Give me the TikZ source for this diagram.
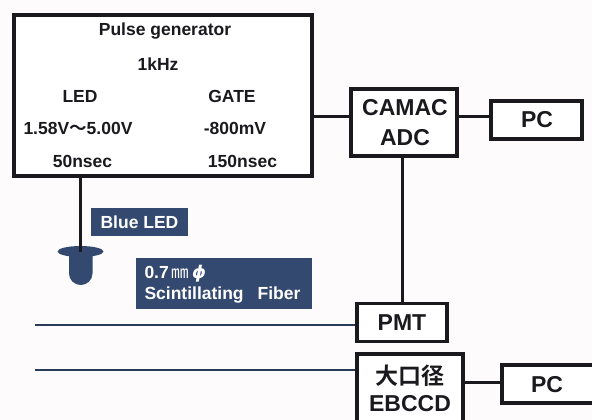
\documentclass[tikz,border=0pt]{standalone}
\usepackage{fontspec}
\setmainfont{Liberation Sans}
\newfontfamily\cjk{Noto Sans CJK JP}[BoldFont={* Bold}]
\newfontfamily\gk{DejaVu Sans}
\definecolor{navy}{HTML}{34496F}
\definecolor{paper}{HTML}{FEFBFD}
\definecolor{ink}{HTML}{1A1A1E}
\tikzset{
  box/.style={draw=ink,line width=3.2pt,fill=white,inner sep=0pt},
  big/.style={font=\fontsize{23}{30}\selectfont\bfseries,text=ink,inner sep=0pt,align=center},
  small/.style={font=\fontsize{17.5}{20}\selectfont\bfseries,text=ink,inner sep=0pt},
  tag/.style={fill=navy,text=white,inner sep=0pt,font=\fontsize{17.5}{21}\selectfont\bfseries},
  wire/.style={draw=ink,line width=3pt},
  fib/.style={draw=navy!80!black,line width=1.8pt}
}
\begin{document}
\begin{tikzpicture}[x=1pt,y=-1pt]
\useasboundingbox (0,0) rectangle (592,420);
\fill[paper] (0,0) rectangle (592,420);
\node[box,minimum width=298pt,minimum height=161pt] (gen) at (163,95.5) {};
\node[small] (t1) at (165,31) {Pulse generator};
\node[small] (t2) at (158,64) {1kHz};
\node[small] (t3) at (80,96) {LED};
\node[small] (t4) at (232,96) {GATE};
\node[small] (t5) at (78,128) {1.58V{\cjk ～}5.00V};
\node[small] (t6) at (235,128) {-800mV};
\node[small] (t7) at (82.5,161) {50nsec};
\node[small] (t8) at (242.5,161) {150nsec};
\node[box,minimum width=106pt,minimum height=67pt] (camac) at (404,122.5) {};
\node[big] (camact) at (405,123) {CAMAC\\ADC};
\node[box,minimum width=91pt,minimum height=38pt] (pc1) at (536.5,120) {};
\node[big] (pc1t) at (537,119.5) {PC};
\node[box,minimum width=90pt,minimum height=38pt] (pmt) at (402,322.5) {};
\node[big] (pmtt) at (402,323) {PMT};
\node[box,minimum width=106pt,minimum height=78pt] (ccd) at (410,393) {};
\node[big,font=\fontsize{23}{27.5}\selectfont\bfseries] (ccdt) at (410,388.5) {{\cjk 大口径}\\EBCCD};
\node[box,minimum width=100pt,minimum height=38pt] (pc2) at (552,384) {};
\node[big] (pc2t) at (547,385) {PC};
\coordinate (c1) at (gen.east |- 0,116);
\coordinate (c2) at (camac.west |- 0,116);
\coordinate (c3) at (camac.east |- 0,116);
\coordinate (c4) at (pc1.west |- 0,116);
\coordinate (c5) at (402,157);
\coordinate (c6) at (402,303);
\coordinate (c7) at (80,176);
\coordinate (c8) at (80,252);
\coordinate (f1) at (35,325);
\coordinate (f2) at (pmt.west |- 0,325);
\coordinate (f3) at (35,370);
\coordinate (f4) at (ccd.west |- 0,370);
\coordinate (c9) at (ccd.east |- 0,382);
\coordinate (c10) at (pc2.west |- 0,382);
\draw[wire] (c1) -- (c2);
\draw[wire] (c3) -- (c4);
\draw[wire] (c5) -- (c6);
\draw[wire] (c9) -- (c10);
\draw[fib] (f1) -- (f2);
\draw[fib] (f3) -- (f4);
\fill[navy] (69,251) -- (69,273.5) arc[start angle=180,end angle=0,x radius=11.75,y radius=11.5] -- (92.5,251) -- cycle;
\fill[navy] (80.5,251.5) ellipse[x radius=23,y radius=5.5];
\draw[wire] (c7) -- (c8);
\node[tag,minimum width=97pt,minimum height=28pt] (led) at (139.5,222) {Blue LED};
\node[tag,minimum width=176pt,minimum height=51pt] (fiber) at (224,283) {};
\node[tag,align=left,text width=159pt] (fibert) at (224,284.5) {0.7\,{\cjk\mdseries ㎜}\,{\gk\itshape ϕ}\\Scintillating\hspace{14pt}Fiber};
\end{tikzpicture}
\end{document}
